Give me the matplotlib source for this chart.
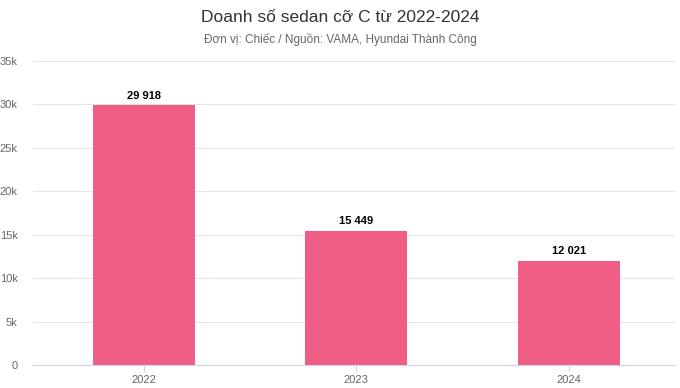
import matplotlib.pyplot as plt
from matplotlib.ticker import FuncFormatter

years = ["2022", "2023", "2024"]
sales = [29918, 15449, 12021]
labels = ["29 918", "15 449", "12 021"]
yticks = [0, 5000, 10000, 15000, 20000, 25000, 30000, 35000]

plt.rcParams['font.family'] = ['Liberation Sans', 'DejaVu Sans']

fig = plt.figure(figsize=(6.8, 3.88), dpi=100)
ax = fig.add_axes([33 / 680, 23 / 388, 642 / 680, 304 / 388])

x = range(len(years))
ax.bar(x, sales, width=0.48, color="#f05e85", zorder=2)
for i, (v, lab) in enumerate(zip(sales, labels)):
    ax.text(i, v + 500, lab, ha="center", va="bottom", fontsize=8,
            fontweight="bold", color="#000000")

ax.set_xlim(-0.52, 2.5)
ax.set_ylim(0, 35000)
ax.set_yticks(yticks)
ax.yaxis.set_major_formatter(FuncFormatter(lambda v, p: "0" if v == 0 else f"{int(v/1000)}k"))
ax.set_xticks(list(x))
ax.set_xticklabels(years)
ax.grid(axis="y", color="#e6e6e6", linewidth=0.8, zorder=0)
for s in ["top", "right", "left"]:
    ax.spines[s].set_visible(False)
ax.spines["bottom"].set_color("#ccd6eb")
ax.tick_params(axis="y", length=0, labelsize=8, colors="#666666", pad=11)
ax.tick_params(axis="x", length=5, color="#ccd6eb", labelsize=8, labelcolor="#666666", pad=2)

fig.text(0.5, 1 - 18 / 388, "Doanh số sedan cỡ C từ 2022-2024", ha="center", va="center",
         fontsize=12.5, color="#333333")
fig.text(0.5, 1 - 40 / 388, "Đơn vị: Chiếc / Nguồn: VAMA, Hyundai Thành Công", ha="center",
         va="center", fontsize=8.5, color="#666666")

fig.savefig("out.png", dpi=100)
